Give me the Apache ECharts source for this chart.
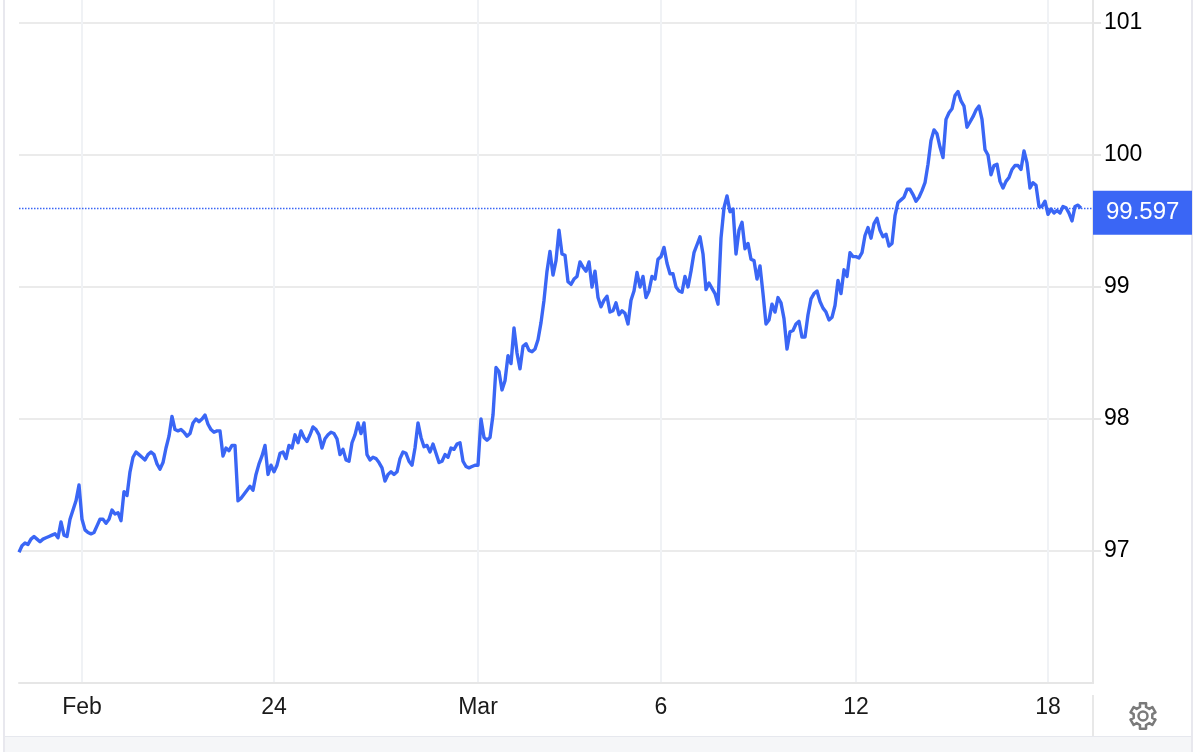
<!DOCTYPE html>
<html>
<head>
<meta charset="utf-8">
<title>Index</title>
<script src="https://cdn.jsdelivr.net/npm/echarts@6/dist/echarts.min.js"></script>
<style>
    html, body { margin: 0; padding: 0; background: #fff; }
    #chart { position: absolute; left: 0; top: 0; width: 1200px; height: 752px; }
    .edge-left { position: absolute; left: 3px; top: 0; width: 2px; height: 752px; background: #e8e8ee; }
    .edge-right { position: absolute; left: 1191px; top: 0; width: 2px; height: 752px; background: #e8e8ee; }
    .band { position: absolute; left: 5px; top: 736px; width: 1186px; height: 16px; background: #f5f6f8; border-top: 1px solid #e6e8ee; }
    .stub { position: absolute; left: 1092px; top: 695px; width: 2px; height: 41px; background: #e8e8e8; }
</style>
</head>
<body>
<div class="edge-left"></div>
<div class="edge-right"></div>
<div class="band"></div>
<div class="stub"></div>
<div id="chart"></div>
<script>
// price, one reading per sample
const prices = [
    96.99, 97.04, 97.06, 97.05, 97.09, 97.11, 97.09, 97.07, 97.09, 97.10,
    97.11, 97.12, 97.13, 97.10, 97.22, 97.12, 97.11, 97.24, 97.31, 97.38,
    97.50, 97.24, 97.16, 97.14, 97.13, 97.14, 97.19, 97.24, 97.24, 97.21,
    97.24, 97.31, 97.28, 97.29, 97.23, 97.45, 97.42, 97.60, 97.71, 97.75,
    97.73, 97.71, 97.69, 97.73, 97.75, 97.73, 97.66, 97.62, 97.67, 97.78,
    97.87, 98.02, 97.92, 97.91, 97.92, 97.90, 97.87, 97.89, 97.97, 98.00,
    97.98, 98.00, 98.03, 97.96, 97.92, 97.90, 97.91, 97.91, 97.72, 97.78,
    97.76, 97.80, 97.80, 97.38, 97.40, 97.43, 97.46, 97.49, 97.46, 97.58,
    97.66, 97.72, 97.80, 97.58, 97.65, 97.60, 97.65, 97.74, 97.75, 97.70,
    97.80, 97.78, 97.88, 97.82, 97.91, 97.86, 97.83, 97.88, 97.94, 97.92,
    97.88, 97.78, 97.85, 97.88, 97.90, 97.89, 97.85, 97.73, 97.77, 97.69,
    97.68, 97.82, 97.88, 97.97, 97.89, 97.97, 97.73, 97.69, 97.71, 97.70,
    97.67, 97.63, 97.53, 97.58, 97.60, 97.58, 97.60, 97.70, 97.75, 97.74,
    97.68, 97.65, 97.78, 97.97, 97.86, 97.79, 97.80, 97.75, 97.81, 97.74,
    97.67, 97.68, 97.73, 97.71, 97.78, 97.77, 97.81, 97.82, 97.68, 97.64,
    97.63, 97.64, 97.65, 97.65, 98.00, 97.86, 97.84, 97.86, 98.03, 98.39,
    98.36, 98.22, 98.29, 98.48, 98.42, 98.69, 98.50, 98.38, 98.55, 98.57,
    98.52, 98.51, 98.53, 98.60, 98.73, 98.90, 99.12, 99.27, 99.09, 99.20,
    99.43, 99.25, 99.24, 99.04, 99.02, 99.06, 99.08, 99.19, 99.15, 99.12,
    99.19, 99.00, 99.12, 98.92, 98.85, 98.90, 98.93, 98.81, 98.82, 98.88,
    98.79, 98.82, 98.80, 98.72, 98.90, 98.97, 99.11, 99.00, 99.08, 98.92,
    98.97, 99.08, 99.06, 99.21, 99.23, 99.30, 99.18, 99.10, 99.10, 99.00,
    98.97, 98.96, 99.08, 99.00, 99.12, 99.26, 99.32, 99.38, 99.25, 98.98,
    99.03, 98.99, 98.95, 98.87, 99.37, 99.60, 99.69, 99.57, 99.59, 99.25,
    99.43, 99.49, 99.29, 99.33, 99.21, 99.20, 99.06, 99.16, 98.95, 98.72,
    98.75, 98.87, 98.81, 98.92, 98.88, 98.76, 98.53, 98.66, 98.67, 98.72,
    98.74, 98.62, 98.62, 98.79, 98.91, 98.95, 98.97, 98.89, 98.84, 98.81,
    98.75, 98.77, 98.86, 99.05, 98.95, 99.13, 99.08, 99.26, 99.23, 99.23,
    99.22, 99.26, 99.39, 99.45, 99.37, 99.48, 99.52, 99.43, 99.38, 99.40,
    99.31, 99.33, 99.54, 99.64, 99.66, 99.68, 99.74, 99.74, 99.70, 99.65,
    99.68, 99.73, 99.79, 99.93, 100.11, 100.19, 100.16, 100.06, 99.98, 100.27,
    100.32, 100.35, 100.45, 100.48, 100.41, 100.37, 100.21, 100.25, 100.29, 100.34,
    100.37, 100.27, 100.04, 100.00, 99.85, 99.92, 99.93, 99.80, 99.75, 99.80,
    99.83, 99.89, 99.92, 99.92, 99.89, 100.03, 99.94, 99.75, 99.79, 99.77,
    99.61, 99.61, 99.65, 99.55, 99.59, 99.56, 99.58, 99.56, 99.61, 99.60,
    99.56, 99.50, 99.61, 99.62, 99.597
];

const lastPrice = 99.597;
const sampleCount = 359;

// date labels and the sample each one sits on
const tickIndexes = [21, 85, 153, 214, 279, 343];
const tickLabels = ['Feb', '24', 'Mar', '6', '12', '18'];
const priceTicks = [97, 98, 99, 100, 101];

const blue = '#3a66f5';
const fontName = '"Liberation Sans", Arial, sans-serif';

var categories = [];
for (var i = 0; i < sampleCount; i++) {
    var pos = tickIndexes.indexOf(i);
    categories.push(pos >= 0 ? tickLabels[pos] : 's' + i);
}

const isDateTick = (index) => tickIndexes.indexOf(index) >= 0;

// six lobed gear, same shape as the settings icon
function gearPoints(cx, cy, outer, inner) {
    var pts = [];
    for (var t = 0; t < 6; t++) {
        var a = (t * 60 - 90) * Math.PI / 180;
        [[-0.24, outer], [0.24, outer], [0.32, inner], [0.73, inner]].forEach((p) => {
            pts.push([cx + p[1] * Math.cos(a + p[0]), cy + p[1] * Math.sin(a + p[0])]);
        });
    }
    return pts;
}

const chart = echarts.init(document.getElementById('chart'));
chart.setOption({
    animation: false,
    textStyle: { fontFamily: fontName },
    grid: { left: 19, right: 107, top: 0, bottom: 69, containLabel: false },
    xAxis: {
        type: 'category',
        data: categories,
        boundaryGap: false,
        axisLine: { show: true, lineStyle: { color: '#e6e6e6', width: 2 } },
        axisTick: { show: false },
        axisLabel: {
            interval: (index) => isDateTick(index),
            color: '#1a1a1a',
            fontSize: 23,
            fontFamily: fontName,
            margin: 13
        },
        splitLine: {
            show: true,
            interval: (index) => isDateTick(index),
            lineStyle: { color: '#f0f2f5', width: 2 }
        }
    },
    yAxis: {
        type: 'value',
        position: 'right',
        min: 96,
        max: 101.174,
        axisLine: { show: true, lineStyle: { color: '#e6e6e6', width: 2 } },
        axisTick: {
            show: true,
            length: 8,
            customValues: priceTicks,
            lineStyle: { color: '#e6e6e6', width: 2 }
        },
        axisLabel: {
            customValues: priceTicks,
            color: '#000',
            fontSize: 23,
            fontFamily: fontName,
            margin: 11,
            padding: [0, 0, 5, 0]
        },
        splitLine: { show: true, lineStyle: { color: '#ebebeb', width: 2 } }
    },
    series: [{
        type: 'line',
        data: prices,
        showSymbol: false,
        symbol: 'none',
        smooth: false,
        sampling: false,
        lineStyle: { color: blue, width: 3.4, join: 'round' },
        markLine: {
            silent: true,
            symbol: 'none',
            animation: false,
            lineStyle: { color: blue, width: 1.3, type: [1.5, 1.5], opacity: 1 },
            label: {
                show: true,
                position: 'end',
                distance: 0,
                offset: [0, 5],
                formatter: () => lastPrice.toFixed(3),
                backgroundColor: blue,
                color: '#fff',
                fontSize: 24,
                fontFamily: fontName,
                lineHeight: 44,
                width: 86,
                align: 'left',
                padding: [0, 0, 0, 13]
            },
            data: [{ yAxis: lastPrice }]
        }
    }],
    graphic: [{
        type: 'polygon',
        shape: { points: gearPoints(1143, 716, 13, 9.5) },
        style: { fill: 'none', stroke: '#7a7a7a', lineWidth: 2.5, lineJoin: 'round' }
    }, {
        type: 'circle',
        shape: { cx: 1143, cy: 716, r: 4.5 },
        style: { fill: 'none', stroke: '#7a7a7a', lineWidth: 2.5 }
    }]
});

window.addEventListener('resize', () => {
    chart.resize();
});
</script>
</body>
</html>
